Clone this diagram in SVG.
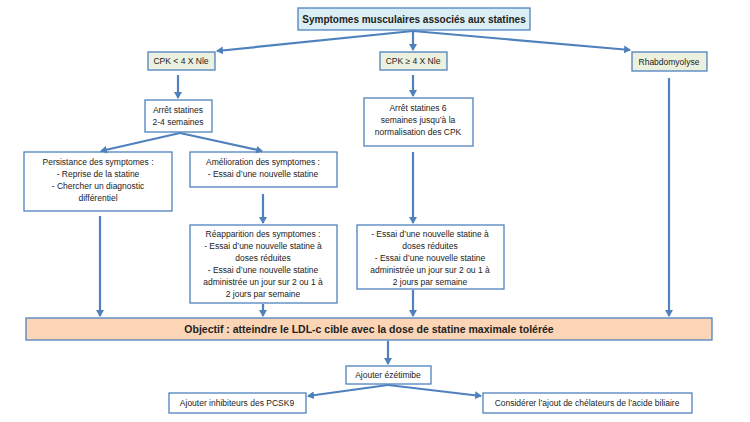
<svg xmlns="http://www.w3.org/2000/svg" width="750" height="422" viewBox="0 0 750 422">
<defs>
<marker id="a" markerWidth="8" markerHeight="8" refX="6" refY="4" orient="auto" markerUnits="userSpaceOnUse"><path d="M0,0 L7,4 L0,8 z" fill="#4f81bd"/></marker>
<style>
.b{fill:#fff;stroke:#4f81bd;stroke-width:1.3}
.g{fill:#ebf1de;stroke:#4f81bd;stroke-width:1.3}
text{font-family:"Liberation Sans",Arial,sans-serif;font-size:8.5px;fill:#222;text-anchor:middle}
.c line{stroke:#4f81bd;stroke-width:2.2;marker-end:url(#a)}
</style>
</defs>
<rect width="750" height="422" fill="#fff"/>
<g id="title"><rect x="298" y="8" width="232" height="22" fill="#dbeef4" stroke="#4f81bd" stroke-width="1.3"/><text x="414" y="22.5" style="font-size:10px;font-weight:bold">Symptomes musculaires associés aux statines</text></g>
<g id="cpk1"><rect class="g" x="148" y="52" width="67" height="18"/><text x="181" y="64">CPK &lt; 4 X Nle</text></g>
<g id="cpk2"><rect class="g" x="380" y="52" width="67" height="18"/><text x="413" y="64">CPK ≥ 4 X Nle</text></g>
<g id="rhabdo"><rect class="g" x="632" y="52" width="75" height="19"/><text x="669" y="64.5">Rhabdomyolyse</text></g>
<g id="arret1"><rect class="b" x="145" y="100" width="67" height="32"/><text x="178" y="113">Arrêt statines</text><text x="178" y="125">2-4 semaines</text></g>
<g id="arret2"><rect class="b" x="364" y="98" width="109" height="48"/><text x="418" y="111">Arrêt statines 6</text><text x="418" y="123">semaines jusqu’à la</text><text x="418" y="135">normalisation des CPK</text></g>
<g id="persist"><rect class="b" x="24" y="152" width="148" height="59"/><text x="98" y="165">Persistance des symptomes :</text><text x="98" y="177">- Reprise de la statine</text><text x="98" y="189">- Chercher un diagnostic</text><text x="98" y="201">différentiel</text></g>
<g id="amelio"><rect class="b" x="190" y="152" width="147" height="35"/><text x="263" y="165">Amélioration des symptomes :</text><text x="263" y="177">- Essai d’une nouvelle statine</text></g>
<g id="reapp"><rect class="b" x="190" y="225" width="147" height="78"/><text x="263" y="237">Réapparition des symptomes :</text><text x="263" y="249">- Essai d’une nouvelle statine à</text><text x="263" y="261">doses réduites</text><text x="263" y="273">- Essai d’une nouvelle statine</text><text x="263" y="285">administrée un jour sur 2 ou 1 à</text><text x="263" y="297">2 jours par semaine</text></g>
<g id="essai"><rect class="b" x="357" y="225" width="147" height="64"/><text x="430" y="237">- Essai d’une nouvelle statine à</text><text x="430" y="249">doses réduites</text><text x="430" y="261">- Essai d’une nouvelle statine</text><text x="430" y="273">administrée un jour sur 2 ou 1 à</text><text x="430" y="285">2 jours par semaine</text></g>
<g id="objectif"><rect x="26" y="318" width="686" height="22" fill="#fbd5b5" stroke="#4f81bd" stroke-width="1.3"/><text x="369" y="333" style="font-size:10.5px;font-weight:bold">Objectif : atteindre le LDL-c cible avec la dose de statine maximale tolérée</text></g>
<g id="ezet"><rect class="b" x="346" y="366" width="85" height="18"/><text x="388" y="378">Ajouter ézétimibe</text></g>
<g id="pcsk9"><rect class="b" x="169" y="393" width="137" height="20"/><text x="237" y="406">Ajouter inhibiteurs des PCSK9</text></g>
<g id="chel"><rect class="b" x="483" y="393" width="209" height="20"/><text x="587" y="406">Considérer l’ajout de chélateurs de l’acide biliaire</text></g>
<g class="c" id="connectors">
<line x1="413" y1="31" x2="217" y2="51"/>
<line x1="413" y1="31" x2="413" y2="50"/>
<line x1="413" y1="31" x2="630" y2="50"/>
<line x1="178" y1="75" x2="178" y2="98"/>
<line x1="413" y1="75" x2="413" y2="96"/>
<line x1="180" y1="133" x2="101" y2="151"/>
<line x1="180" y1="133" x2="262" y2="151"/>
<line x1="263" y1="194" x2="263" y2="223"/>
<line x1="413" y1="152" x2="413" y2="223"/>
<line x1="669" y1="78" x2="669" y2="316"/>
<line x1="100" y1="216" x2="100" y2="316"/>
<line x1="263" y1="304" x2="263" y2="316"/>
<line x1="413" y1="290" x2="413" y2="316"/>
<line x1="388" y1="341" x2="388" y2="364"/>
<line x1="388" y1="385" x2="308" y2="396"/>
<line x1="388" y1="385" x2="481" y2="396"/>
</g>
</svg>
